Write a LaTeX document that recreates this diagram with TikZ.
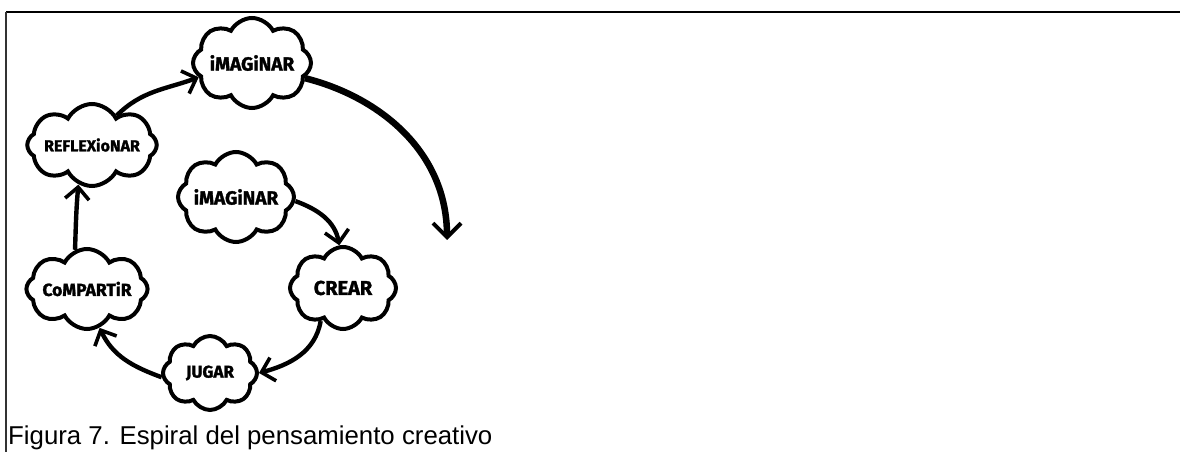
\documentclass[tikz,border=0pt]{standalone}
\usepackage{fontspec}
\setmainfont{Liberation Sans}
\newfontfamily\handfont{Fira Sans}[BoldFeatures={FakeBold=1.5}]
\usetikzlibrary{shapes.symbols,arrows.meta}
\tikzset{
  idea/.style={cloud, cloud puffs=8, cloud puff arc=125, cloud ignores aspect,
    draw=black, line width=4pt, fill=white, inner sep=0pt,
    font=\handfont\bfseries\fontsize{19}{21}\selectfont},
  flow/.style={line width=4.4pt, -{Straight Barb[length=12pt,width=24pt,line width=3.6pt]}},
  bigflow/.style={line width=6.5pt, -{Straight Barb[length=14pt,width=28pt,line width=4pt]}},
  frameline/.style={line width=2.2pt}
}
\begin{document}
\begin{tikzpicture}[x=1pt,y=1pt]
\useasboundingbox (0,0) rectangle (1180,452);
\draw[frameline] (6,440) -- (1180,440);
\draw[line width=1.4pt, black!80] (6,440) -- (6,0);

\node[idea, minimum width=118pt, minimum height=90pt] (im1) at (252,389) {iMAGiNAR};
\node[idea, minimum width=110pt, minimum height=82pt, font=\handfont\bfseries\fontsize{16}{18}\selectfont] (refl) at (92,307) {REFLEXioNAR};
\node[idea, minimum width=116pt, minimum height=90pt] (im2) at (236,255) {iMAGiNAR};
\node[idea, minimum width=106pt, minimum height=82pt, font=\handfont\bfseries\fontsize{20}{22}\selectfont] (crear) at (343,164) {CREAR};
\node[idea, minimum width=106pt, minimum height=80pt, font=\handfont\bfseries\fontsize{17.5}{19}\selectfont] (comp) at (87,163) {CoMPARTiR};
\node[idea, minimum width=94pt, minimum height=74pt, font=\handfont\bfseries\fontsize{17}{19}\selectfont] (jugar) at (210,79) {JUGAR};

\coordinate (bigend) at (447,212);

\draw[bigflow] (im1.-16) .. controls (380,355) and (447,300) .. (bigend);
\draw[flow] (refl.50) to[out=45,in=200] (im1.195);
\draw[flow] (im2.-4) to[out=-20,in=100] (crear.95);
\draw[flow] (crear.236) to[out=-100,in=15] (jugar.east);
\draw[flow] (jugar.185) to[out=160,in=-65] (comp.-72);
\draw[flow] (comp.107) to[out=88,in=-95] (refl.251);

\node[anchor=base west, font=\fontsize{25.8}{30}\selectfont, inner sep=0pt] (cap) at (8,7) {Figura 7. Espiral del pensamiento creativo};
\end{tikzpicture}
\end{document}
